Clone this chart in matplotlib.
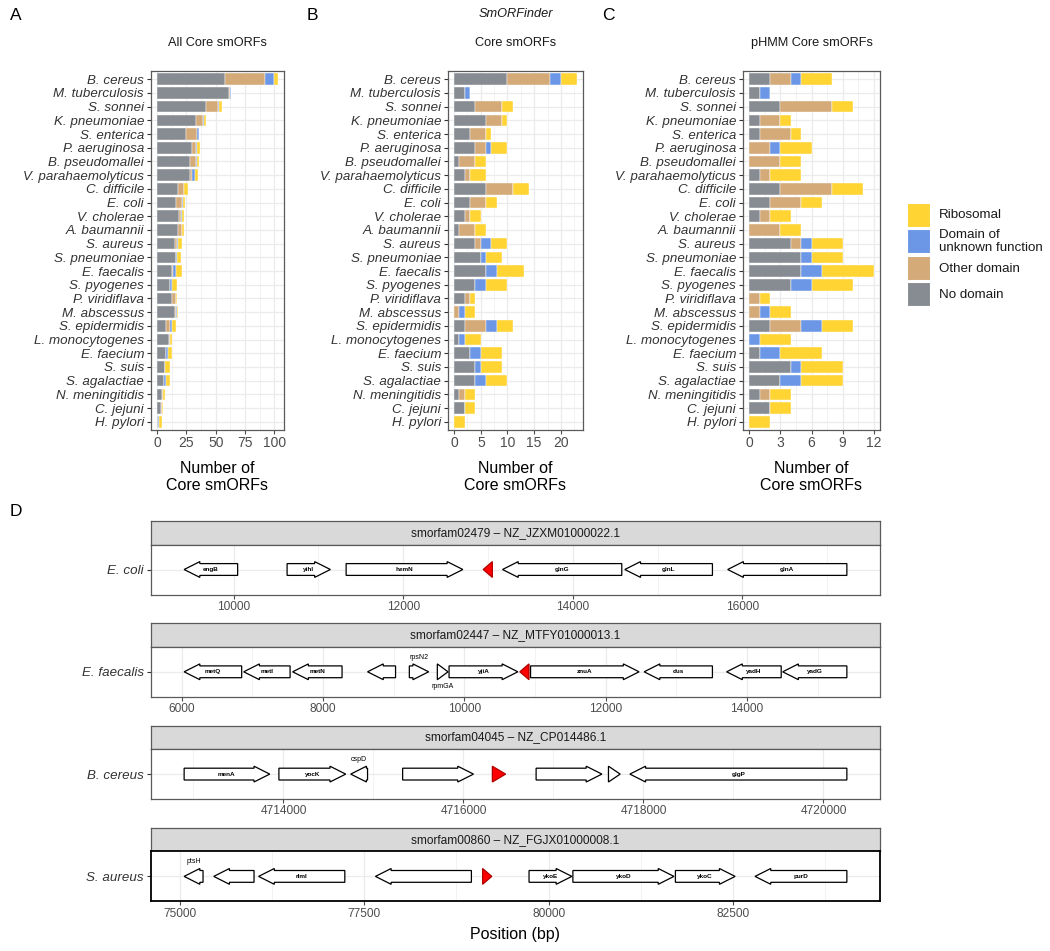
import matplotlib
matplotlib.use("Agg")
import matplotlib.pyplot as plt
import numpy as np
from matplotlib.patches import Polygon, Rectangle
from matplotlib.ticker import MultipleLocator, FuncFormatter

plt.rcParams['font.family'] = ['Liberation Sans', 'DejaVu Sans']

W, H = 1050, 951

species = ["B. cereus", "M. tuberculosis", "S. sonnei", "K. pneumoniae", "S. enterica",
           "P. aeruginosa", "B. pseudomallei", "V. parahaemolyticus", "C. difficile", "E. coli",
           "V. cholerae", "A. baumannii", "S. aureus", "S. pneumoniae", "E. faecalis",
           "S. pyogenes", "P. viridiflava", "M. abscessus", "S. epidermidis", "L. monocytogenes",
           "E. faecium", "S. suis", "S. agalactiae", "N. meningitidis", "C. jejuni", "H. pylori"]

# A: all core smORFs
all_nodomain = [58, 61, 42, 33, 25, 30, 28, 28, 18, 16, 19, 18, 15, 16, 13, 11, 13, 15, 8, 10, 8, 7, 6, 4, 3, 1]
all_other = [34, 1, 10, 6, 9, 3, 5, 2, 5, 5, 1, 3, 2, 0, 1, 0, 3, 1, 3, 1, 0, 0, 0, 1, 1, 0]
all_duf = [8, 1, 1, 1, 2, 1, 1, 2, 0, 1, 1, 0, 1, 1, 2, 2, 0, 1, 2, 0, 1, 0, 2, 0, 0, 1]
all_ribo = [3, 0, 2, 2, 0, 3, 2, 3, 3, 2, 2, 2, 3, 3, 5, 4, 1, 1, 3, 2, 4, 4, 3, 2, 1, 2]

# B: SmORFinder core smORFs
sf_nodomain = [10, 2, 4, 6, 3, 4, 1, 2, 6, 3, 2, 1, 4, 5, 6, 4, 2, 0, 2, 1, 3, 4, 4, 1, 2, 0]
sf_other = [8, 0, 5, 3, 3, 2, 3, 1, 5, 3, 1, 3, 1, 0, 0, 0, 1, 1, 4, 0, 0, 0, 0, 1, 0, 0]
sf_duf = [2, 1, 0, 0, 0, 1, 0, 0, 0, 0, 0, 0, 2, 1, 2, 2, 0, 1, 2, 1, 2, 1, 2, 0, 0, 0]
sf_ribo = [3, 0, 2, 1, 1, 3, 2, 3, 3, 2, 2, 2, 3, 3, 5, 4, 1, 2, 3, 3, 4, 4, 4, 2, 2, 2]

# C: pHMM core smORFs
hmm_nodomain = [2, 1, 3, 1, 1, 0, 0, 1, 3, 2, 1, 0, 4, 5, 5, 4, 0, 0, 2, 0, 1, 4, 3, 1, 2, 0]
hmm_other = [2, 0, 5, 2, 3, 2, 3, 1, 5, 3, 1, 3, 1, 0, 0, 0, 1, 1, 3, 0, 0, 0, 0, 1, 0, 0]
hmm_duf = [1, 1, 0, 0, 0, 1, 0, 0, 0, 0, 0, 0, 1, 1, 2, 2, 0, 1, 2, 1, 2, 1, 2, 0, 0, 0]
hmm_ribo = [3, 0, 2, 1, 1, 3, 2, 3, 3, 2, 2, 2, 3, 3, 5, 4, 1, 2, 3, 3, 4, 4, 4, 2, 2, 2]

cat_labels = ["No domain", "Other domain", "Domain of\nunknown function", "Ribosomal"]
cat_colors = ["#878C92", "#D3AA78", "#6B97E6", "#FFD433"]

# D: genomic neighbourhoods
track_titles = ["smorfam02479 \u2013 NZ_JZXM01000022.1", "smorfam02447 \u2013 NZ_MTFY01000013.1",
                "smorfam04045 \u2013 NZ_CP014486.1", "smorfam00860 \u2013 NZ_FGJX01000008.1"]
track_species = ["E. coli", "E. faecalis", "B. cereus", "S. aureus"]

ecoli_start = [9417, 10631, 11327, 12943, 13171, 14613, 15826]
ecoli_end = [10048, 11141, 12703, 13051, 14577, 15646, 17231]
ecoli_strand = [-1, 1, 1, -1, -1, -1, -1]
ecoli_gene = ["engB", "yihI", "hemN", "smORF", "glnG", "glnL", "glnA"]

efae_start = [6036, 6879, 7571, 8631, 9222, 9618, 9784, 10785, 10937, 12544, 13711, 14504]
efae_end = [6850, 7535, 8270, 9027, 9495, 9769, 10757, 10915, 12472, 13510, 14483, 15412]
efae_strand = [-1, -1, -1, -1, 1, 1, 1, -1, 1, -1, -1, -1]
efae_gene = ["metQ", "metI", "metN", "", "rpsN2", "rpmGA", "yjiA", "smORF", "znuA", "dus", "yadH", "yadG"]

bcer_start = [4712896, 4713949, 4714747, 4715324, 4716321, 4716807, 4717611, 4717849]
bcer_end = [4713847, 4714691, 4714934, 4716111, 4716468, 4717538, 4717741, 4720260]
bcer_strand = [1, 1, -1, 1, 1, 1, 1, -1]
bcer_gene = ["menA", "yocK", "cspD", "", "smORF", "", "", "glgP"]

saur_start = [75062, 75463, 76071, 77654, 79106, 79735, 80329, 81718, 82797]
saur_end = [75318, 76009, 77239, 78954, 79230, 80315, 81698, 82527, 84041]
saur_strand = [-1, -1, -1, -1, 1, 1, 1, 1, -1]
saur_gene = ["ptsH", "", "rlmI", "", "smORF", "ykoE", "ykoD", "ykoC", "purD"]

tracks = [(ecoli_start, ecoli_end, ecoli_strand, ecoli_gene),
          (efae_start, efae_end, efae_strand, efae_gene),
          (bcer_start, bcer_end, bcer_strand, bcer_gene),
          (saur_start, saur_end, saur_strand, saur_gene)]
track_steps = [2000, 2000, 2000, 2500]
label_outside = {"rpsN2": 1, "rpmGA": -1, "cspD": 1, "ptsH": 1}

TXT = "#4D4D4D"
GRID = "#EBEBEB"
FRAME = "#5A5A5A"


def px_axes(l, t, r, b):
    return fig.add_axes([l / W, 1 - b / H, (r - l) / W, (b - t) / H])


def ftext(x, y, s, **kw):
    fig.text(x / W, 1 - y / H, s, **kw)


def style_frame(ax, color=FRAME, lw=0.9):
    for sp in ax.spines.values():
        sp.set_color(color)
        sp.set_linewidth(lw)


fig = plt.figure(figsize=(W / 100, H / 100), dpi=100)


def bar_panel(ax, stacks, step):
    n = len(species)
    y = np.arange(n)
    left = np.zeros(n)
    for vals, col in zip(stacks, cat_colors):
        vals = np.array(vals, dtype=float)
        ax.barh(y, vals, left=left, height=0.85, color=col, edgecolor="white",
                linewidth=0.3, zorder=3)
        left += vals
    top = left.max()
    ax.set_xlim(-0.05 * top, 1.05 * top)
    ax.set_ylim(n - 0.4, -0.6)
    ax.set_yticks(y)
    ax.set_yticklabels(species, fontstyle="italic", fontsize=9.6, color="#333333")
    ax.xaxis.set_major_locator(MultipleLocator(step))
    ax.xaxis.set_minor_locator(MultipleLocator(step / 2))
    ax.tick_params(axis="x", labelsize=10, colors=TXT, length=3, width=0.8, pad=1.5)
    ax.tick_params(axis="y", length=3, width=0.8, pad=2, color="#333333")
    ax.tick_params(which="minor", length=0)
    ax.grid(which="major", color=GRID, lw=0.9, zorder=0)
    ax.grid(which="minor", axis="x", color=GRID, lw=0.45, zorder=0)
    ax.set_axisbelow(True)
    style_frame(ax)


panels = [
    (151, 284, [all_nodomain, all_other, all_duf, all_ribo], 25, "All Core smORFs", "A"),
    (448, 583, [sf_nodomain, sf_other, sf_duf, sf_ribo], 5, "Core smORFs", "B"),
    (743, 880, [hmm_nodomain, hmm_other, hmm_duf, hmm_ribo], 3, "pHMM Core smORFs", "C"),
]
for l, r, stacks, step, title, letter in panels:
    ax = px_axes(l, 71, r, 430)
    bar_panel(ax, stacks, step)
    cx = (l + r) / 2
    ftext(cx, 43, title, ha="center", va="center", fontsize=9.2, color="#1A1A1A")
    ftext(cx, 477, "Number of\nCore smORFs", ha="center", va="center", fontsize=11.5,
          linespacing=1.15)
    ftext(l - 141, 15, letter, ha="left", va="center", fontsize=12.5)
ftext((448 + 583) / 2, 14, "SmORFinder", ha="center", va="center", fontsize=9.2,
      fontstyle="italic", color="#1A1A1A")

# legend
lg = fig.add_axes([0, 0, 1, 1], facecolor="none")
lg.set_xlim(0, W)
lg.set_ylim(H, 0)
lg.axis("off")
key_top = [203, 229, 256, 282]
for i, (lab, col) in enumerate(zip(cat_labels[::-1], cat_colors[::-1])):
    lg.add_patch(Rectangle((907, key_top[i]), 23, 23.5, facecolor=col, edgecolor="white", lw=0.8))
    lg.text(939, key_top[i] + 12.5, lab, ha="left", va="center", fontsize=9.6,
            color="#1A1A1A", linespacing=1.05)

# D: gene tracks
ftext(10, 512, "D", ha="left", va="center", fontsize=12.5)
d_left, d_right = 151, 880
head_px, body_half, head_half = 15.7, 5.9, 7.9
for i, (starts, ends, strands, genes) in enumerate(tracks):
    st = 521 + i * 102.3
    sax = px_axes(d_left, st, d_right, st + 23.5)
    sax.set_facecolor("#D9D9D9")
    sax.set_xticks([])
    sax.set_yticks([])
    style_frame(sax)
    sax.text(0.5, 0.5, track_titles[i], transform=sax.transAxes, ha="center", va="center",
             fontsize=8.6, color="#1A1A1A")

    ph = 50
    ax = px_axes(d_left, st + 23.5, d_right, st + 23.5 + ph)
    lo, hi = min(starts), max(ends)
    pad = 0.05 * (hi - lo)
    ax.set_xlim(lo - pad, hi + pad)
    ax.set_ylim(-ph / 2, ph / 2)
    ppb = (d_right - d_left) / (hi - lo + 2 * pad)
    for s, e, strand, g in zip(starts, ends, strands, genes):
        head = min(head_px / ppb, e - s)
        if strand > 0:
            nk = e - head
            pts = [(s, -body_half), (nk, -body_half), (nk, -head_half), (e, 0),
                   (nk, head_half), (nk, body_half), (s, body_half)]
        else:
            nk = s + head
            pts = [(e, -body_half), (nk, -body_half), (nk, -head_half), (s, 0),
                   (nk, head_half), (nk, body_half), (e, body_half)]
        smorf = g == "smORF"
        ax.add_patch(Polygon(pts, closed=True, facecolor="red" if smorf else "white",
                             edgecolor="#B00000" if smorf else "black", lw=0.9, zorder=3))
        if g and not smorf:
            side = label_outside.get(g, 0)
            ax.text((s + e) / 2, side * 14.5, g, ha="center", va="center",
                    fontsize=4.6 if side == 0 else 5, fontweight="bold" if side == 0 else "normal",
                    zorder=4)
    ax.set_yticks([0])
    ax.set_yticklabels([track_species[i]], fontstyle="italic", fontsize=9.6, color="#333333")
    ax.xaxis.set_major_locator(MultipleLocator(track_steps[i]))
    ax.xaxis.set_minor_locator(MultipleLocator(track_steps[i] / 2))
    ax.xaxis.set_major_formatter(FuncFormatter(lambda v, p: f"{v:.0f}"))
    ax.tick_params(axis="x", labelsize=8.6, colors=TXT, length=3, width=0.8, pad=1.5)
    ax.tick_params(axis="y", length=3, width=0.8, pad=2, color="#333333")
    ax.tick_params(which="minor", length=0)
    ax.grid(which="major", color=GRID, lw=0.9, zorder=0)
    ax.grid(which="minor", axis="x", color=GRID, lw=0.45, zorder=0)
    ax.set_axisbelow(True)
    if i == len(tracks) - 1:
        style_frame(ax, "black", 1.3)
    else:
        style_frame(ax)

ftext((d_left + d_right) / 2, 934, "Position (bp)", ha="center", va="center", fontsize=11.5)

fig.savefig("out.png", dpi=100)
